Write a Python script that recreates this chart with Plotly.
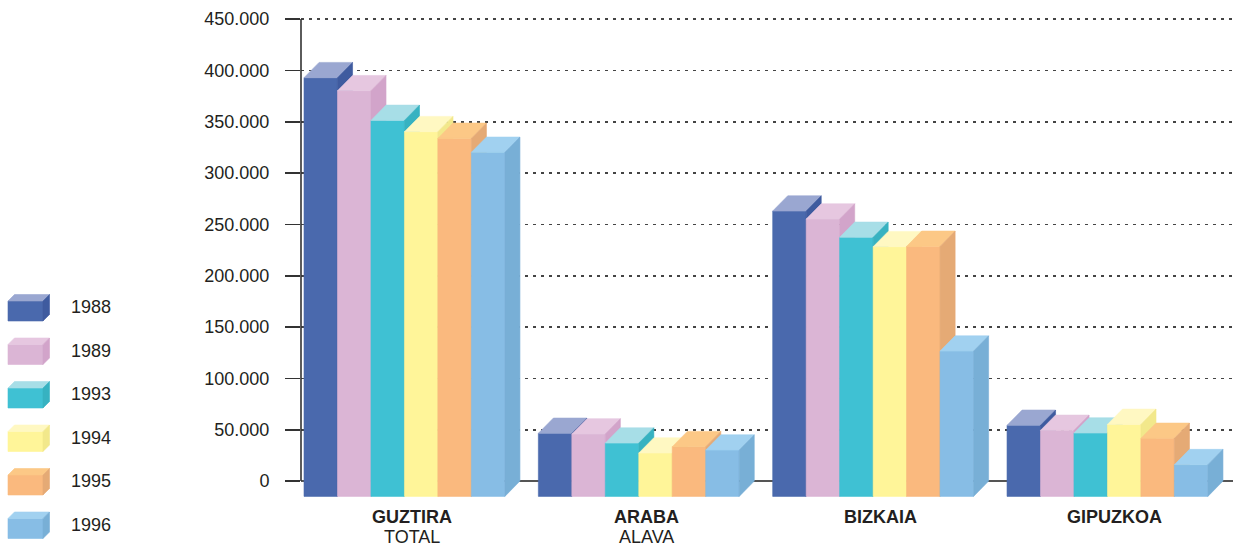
import plotly.graph_objects as go

# ---------------- data ----------------
regions = ["GUZTIRA", "ARABA", "BIZKAIA", "GIPUZKOA"]
region_sub = ["TOTAL", "ALAVA", "", ""]
years = ["1988", "1989", "1993", "1994", "1995", "1996"]

v1988 = [407800, 61400, 277900, 69200]
v1989 = [395100, 60800, 270100, 64300]
v1993 = [366200, 51900, 252300, 61700]
v1994 = [355200, 42200, 243200, 70100]
v1995 = [348700, 48400, 243500, 56500]
v1996 = [335100, 45100, 141500, 30900]
series = [v1988, v1989, v1993, v1994, v1995, v1996]

front_colors = ["#4A69AD", "#DBB5D5", "#3FC1D3", "#FFF599", "#FAB97E", "#87BDE5"]
top_colors = ["#9AA7D1", "#E6C7E0", "#A7DEE7", "#FFF8C2", "#FCC886", "#A1D1F0"]
side_colors = ["#3F5B9F", "#D2A4CA", "#37B2C1", "#F2E88B", "#E5AA75", "#78AFD6"]

y_ticks = [0, 50000, 100000, 150000, 200000, 250000, 300000, 350000, 400000, 450000]

# ---------------- geometry (layout) ----------------
W, H = 1233, 547
group_period = 7          # 6 bars + 1 gap, in bar widths
dx = 0.45                 # depth offset in bar widths
dy = 14900                # depth offset in value units
px_per_unit = 462 / 450000
y_lo, y_hi = -15500, 452000
y_bottom_px = 497
y_top_px = y_bottom_px - (y_hi - y_lo) * px_per_unit
x_range = [-0.09, 27.75]
x_dom0 = 301 / W
y_dom = [1 - y_bottom_px / H, 1 - y_top_px / H]
FONT = "Liberation Sans, Arial"
TXT = "#231F20"

fig = go.Figure()


def poly(xs, ys, color, xa="x", ya="y"):
    fig.add_trace(go.Scatter(
        x=xs + [xs[0]], y=ys + [ys[0]], mode="lines", fill="toself",
        fillcolor=color, line=dict(color=color, width=0.6),
        hoverinfo="skip", showlegend=False, xaxis=xa, yaxis=ya))


for g in range(len(regions)):
    for j in range(len(years)):
        v = series[j][g]
        x0 = g * group_period + j
        x1 = x0 + 1
        # front face
        poly([x0, x1, x1, x0], [-dy, -dy, v - dy, v - dy], front_colors[j])
        # top face
        poly([x0, x1, x1 + dx, x0 + dx], [v - dy, v - dy, v, v], top_colors[j])
        # side face
        poly([x1, x1 + dx, x1 + dx, x1], [-dy, 0, v, v - dy], side_colors[j])

# ---------------- legend (pixel coordinates on secondary axes) ----------------
lx0, lw, lh, ld = 8, 35, 20, 6.5
for j, yr in enumerate(years):
    t = 301 + 43.5 * j
    poly([lx0, lx0 + lw, lx0 + lw, lx0], [t, t, t + lh, t + lh], front_colors[j], "x2", "y2")
    poly([lx0, lx0 + lw, lx0 + lw + ld, lx0 + ld], [t, t, t - ld, t - ld], top_colors[j], "x2", "y2")
    poly([lx0 + lw, lx0 + lw + ld, lx0 + lw + ld, lx0 + lw], [t, t - ld, t + lh - ld, t + lh],
         side_colors[j], "x2", "y2")
    fig.add_annotation(x=69, y=t + 6, xref="x2", yref="y2", text=yr, showarrow=False,
                       xanchor="left", yanchor="middle",
                       font=dict(family=FONT, size=18, color=TXT))

# ---------------- category labels ----------------
for g, (r, s) in enumerate(zip(regions, region_sub)):
    xc = g * group_period + 3 + dx / 2
    fig.add_annotation(x=xc, y=517, xref="x", yref="y2", text=f"<b>{r}</b>", showarrow=False,
                       xanchor="center", yanchor="middle", font=dict(family=FONT, size=18, color=TXT))
    if s:
        fig.add_annotation(x=xc, y=536.5, xref="x", yref="y2", text=s, showarrow=False,
                           xanchor="center", yanchor="middle",
                           font=dict(family=FONT, size=18, color=TXT))

# y axis line (from 0 to top)
fig.add_shape(type="line", xref="paper", yref="y", x0=x_dom0, x1=x_dom0,
              y0=y_ticks[0], y1=y_ticks[-1], line=dict(color="#333333", width=1.6))

fig.update_layout(
    width=W, height=H,
    margin=dict(l=0, r=0, t=0, b=0, autoexpand=False),
    paper_bgcolor="white", plot_bgcolor="rgba(0,0,0,0)",
    separators=",.",
    showlegend=False,
    font=dict(family=FONT, size=18, color=TXT),
    xaxis=dict(domain=[x_dom0, 1], range=x_range, showgrid=False, zeroline=False,
               showline=False, ticks="", showticklabels=False,
               automargin=False, fixedrange=True),
    yaxis=dict(domain=y_dom, range=[y_lo, y_hi], tickvals=y_ticks, tickformat=",d",
               showgrid=True, gridcolor="#444444", gridwidth=1.6, griddash="3px,5px",
               zeroline=True, zerolinecolor="#555555", zerolinewidth=2.2,
               showline=False, ticks="outside", ticklen=15, tickwidth=1.6, tickcolor="#333333",
               ticklabelstandoff=12, tickfont=dict(size=18, color=TXT),
               automargin=False, fixedrange=True),
    xaxis2=dict(domain=[0, 0.12], range=[0, 0.12 * W], visible=False, anchor="y2",
                automargin=False),
    yaxis2=dict(domain=[0, 1], range=[H, 0], visible=False, anchor="x2", automargin=False),
)

fig.write_html("out.html", config={"displayModeBar": False, "staticPlot": True},
               post_script="document.body.style.margin='0';document.body.style.overflow='hidden';")
